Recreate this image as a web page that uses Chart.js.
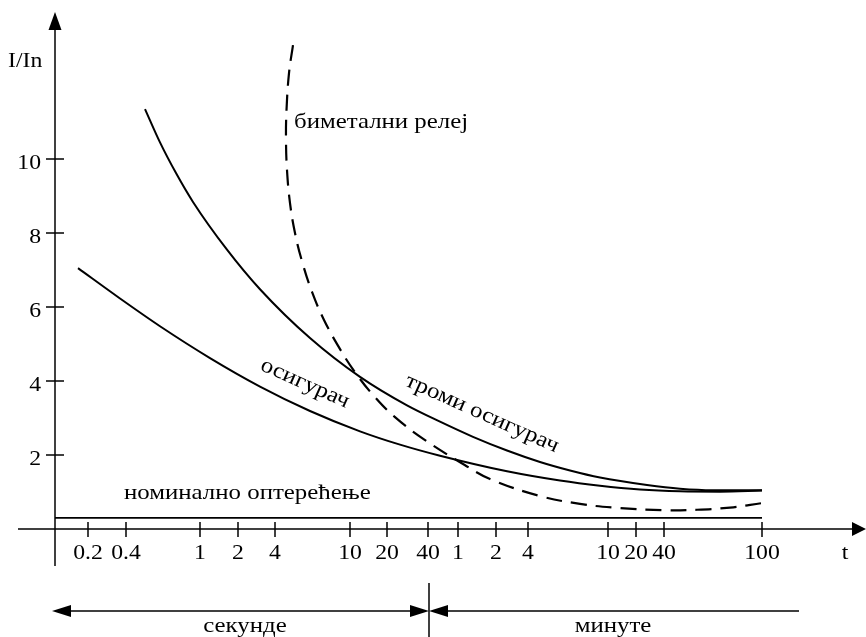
<!DOCTYPE html>
<html><head><meta charset="utf-8">
<script src="https://cdn.jsdelivr.net/npm/chart.js@4/dist/chart.umd.min.js"></script>
<style>html,body{margin:0;padding:0;background:#fff;}canvas{display:block;}</style>
</head><body>
<canvas id="c" width="866" height="637"></canvas>
<script>
// Time axis (schematic, logarithmic-like spacing): labels and their positions along the axis
const secondLabels = ['0.2','0.4','1','2','4','10','20','40'];
const secondPos    = [3.3, 7.1, 14.5, 18.3, 22.0, 29.5, 33.2, 37.3];
const minuteLabels = ['1','2','4','10','20','40','100'];
const minutePos    = [40.3, 44.1, 47.3, 55.3, 58.1, 60.9, 70.7];
const yTicks = [2, 4, 6, 8, 10];

// осигурач (fuse)
const fuseX = [2.3, 6.5, 10.5, 15.5, 20.5, 25.5, 30.5, 34.5, 38.5, 45.2, 50.5, 54.5, 58.5, 62.5, 66.5, 70.7];
const fuseY = [7.05, 6.23, 5.48, 4.62, 3.85, 3.19, 2.64, 2.28, 1.98, 1.56, 1.31, 1.17, 1.07, 1.02, 1.01, 1.04];
// троми осигурач (slow fuse)
const slowX = [9.0, 10.5, 12.1, 13.8, 17.2, 20.5, 25.5, 30.5, 35.2, 38.5, 41.8, 45.2, 48.5, 51.5, 54.5, 59.2, 62.5, 65.8, 70.7];
const slowY = [11.35, 10.45, 9.62, 8.84, 7.55, 6.48, 5.16, 4.11, 3.34, 2.90, 2.49, 2.12, 1.81, 1.58, 1.39, 1.19, 1.09, 1.05, 1.05];
// биметални релеј (bimetal relay)
const bimX = [23.8, 23.4, 23.15, 23.1, 23.2, 23.5, 24.0, 24.75, 25.74, 26.9, 28.55, 30.05, 31.97, 33.97, 36.97, 40.97, 43.5, 48.5, 52.5, 55.8, 60.8, 64.2, 67.5, 70.7];
const bimY = [13.08, 12.32, 11.32, 10.51, 9.70, 8.81, 8.00, 7.19, 6.38, 5.65, 4.84, 4.22, 3.57, 3.03, 2.41, 1.73, 1.35, 0.89, 0.68, 0.58, 0.51, 0.52, 0.58, 0.70];
// номинално оптерећење (nominal load)
const nomX = [0, 70.7];
const nomY = [0.3, 0.3];

const pts = (xs, ys) => xs.map((x, i) => ({x, y: ys[i]}));
const FONT_NUM = '21px "Liberation Serif", "Times New Roman", serif';
const FONT_TXT = '22px "Liberation Serif", "Times New Roman", serif';

const schematic = {
  id: 'schematic',
  afterDatasetsDraw(chart) {
    const {ctx, scales: {x, y}} = chart;
    const X = v => x.getPixelForValue(v), Y = v => y.getPixelForValue(v);
    const x0 = X(0), y0 = Y(0);
    ctx.save();
    ctx.strokeStyle = '#000'; ctx.fillStyle = '#000'; ctx.lineWidth = 1.5; ctx.setLineDash([]);
    const line = (a, b, c, d) => { ctx.beginPath(); ctx.moveTo(a, b); ctx.lineTo(c, d); ctx.stroke(); };
    const tri = (p, q, r) => { ctx.beginPath(); ctx.moveTo(p[0], p[1]); ctx.lineTo(q[0], q[1]); ctx.lineTo(r[0], r[1]); ctx.closePath(); ctx.fill(); };
    const txt = (s, px, py, align = 'center', baseline = 'alphabetic', rot = 0, font = FONT_NUM) => {
      ctx.save(); ctx.translate(px, py); ctx.rotate(rot); ctx.scale(1.13, 1);
      ctx.font = font; ctx.textAlign = align; ctx.textBaseline = baseline; ctx.fillText(s, 0, 0); ctx.restore();
    };
    // x axis with arrow
    line(x.left, y0, x.right - 10, y0);
    tri([x.right, y0], [x.right - 14, y0 - 7], [x.right - 14, y0 + 7]);
    // y axis with arrow
    line(x0, y.bottom, x0, y.top + 14);
    tri([x0, y.top + 1], [x0 - 6.5, y.top + 19], [x0 + 6.5, y.top + 19]);
    // y ticks
    yTicks.forEach(v => { line(x0 - 9, Y(v), x0 + 9, Y(v)); txt(String(v), x0 - 14, Y(v) + 10, 'right'); });
    // x ticks
    const xt = (p, l) => { line(X(p), y0 - 7, X(p), y0 + 8); txt(l, X(p), y0 + 30); };
    secondPos.forEach((p, i) => xt(p, secondLabels[i]));
    minutePos.forEach((p, i) => xt(p, minuteLabels[i]));
    // axis titles
    txt('I/In', x0 - 47, Y(12.49), 'left');
    txt('t', X(79), y0 + 30);
    // curve labels
    txt('номинално оптерећење', X(6.9), y0 - 30, 'left', 'alphabetic', 0, FONT_TXT);
    txt('биметални релеј', X(23.9), Y(10.84), 'left', 'alphabetic', 0, FONT_TXT);
    const ang = 24 * Math.PI / 180;
    txt('осигурач', X(25.0), Y(3.93), 'center', 'middle', ang, FONT_TXT);
    txt('троми осигурач', X(42.7), Y(3.12), 'center', 'middle', ang, FONT_TXT);
    // seconds / minutes ranges below the axis
    const yb = y.bottom + 45, xs0 = X(-0.3), xm = X(37.4), xe = X(74.4);
    line(xm, y.bottom + 17, xm, chart.height);
    line(xs0 + 10, yb, xm - 10, yb);
    line(xm + 10, yb, xe, yb);
    tri([xs0, yb], [xs0 + 19, yb - 6], [xs0 + 19, yb + 6]);
    tri([xm, yb], [xm - 19, yb - 6], [xm - 19, yb + 6]);
    tri([xm, yb], [xm + 19, yb - 6], [xm + 19, yb + 6]);
    txt('секунде', X(19.0), y.bottom + 66, 'center', 'alphabetic', 0, FONT_TXT);
    txt('минуте', X(55.8), y.bottom + 66, 'center', 'alphabetic', 0, FONT_TXT);
    ctx.restore();
  }
};

new Chart(document.getElementById('c'), {
  type: 'line',
  data: { datasets: [
    { label: 'осигурач', data: pts(fuseX, fuseY), borderColor: '#000', borderWidth: 2, pointRadius: 0, cubicInterpolationMode: 'monotone', fill: false },
    { label: 'троми осигурач', data: pts(slowX, slowY), borderColor: '#000', borderWidth: 2, pointRadius: 0, cubicInterpolationMode: 'monotone', fill: false },
    { label: 'биметални релеј', data: pts(bimX, bimY), borderColor: '#000', borderWidth: 2.2, borderDash: [16, 9], pointRadius: 0, tension: 0.4, fill: false },
    { label: 'номинално оптерећење', data: pts(nomX, nomY), borderColor: '#000', borderWidth: 1.7, pointRadius: 0, tension: 0, fill: false }
  ]},
  options: {
    responsive: false, animation: false, devicePixelRatio: 1,
    layout: { padding: { left: 18, right: 0, top: 11, bottom: 71 } },
    plugins: { legend: { display: false }, tooltip: { enabled: false } },
    scales: {
      x: { type: 'linear', min: -3.7, max: 81.1, display: false },
      y: { type: 'linear', min: -1, max: 14, display: false }
    }
  },
  plugins: [schematic]
});
</script>
</body></html>
